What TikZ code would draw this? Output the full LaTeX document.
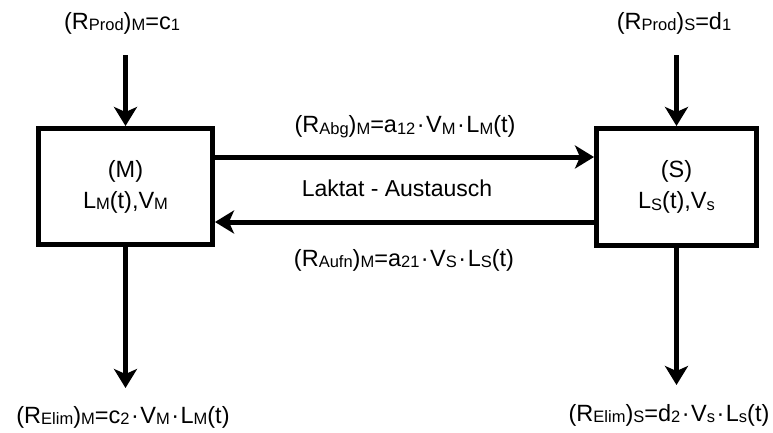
\documentclass[tikz,border=0pt]{standalone}
\usepackage{fontspec}
\setmainfont{Liberation Sans}
\usetikzlibrary{arrows.meta}
\newcommand\lsub[1]{\raisebox{-0.08em}{\fontsize{16.5}{16.5}\selectfont #1}}
\newcommand\mdot{\kern1.5pt·\kern1.5pt}
\begin{document}
\begin{tikzpicture}[x=1pt,y=-1pt,
  box/.style={draw, line width=5pt, inner sep=0pt, align=center, font=\fontsize{23.5}{31}\selectfont},
  flow/.style={line width=5pt, -{Stealth[length=19pt,width=23pt,inset=5pt]}},
  lbl/.style={inner sep=0pt, font=\fontsize{23.5}{27}\selectfont}]
\useasboundingbox (0,0) rectangle (773,432);
\node[box, minimum width=174pt, minimum height=116pt] (M) at (125.5,186.5) {(M)\\L\lsub{M}(t),V\lsub{M}};
\node[box, minimum width=160pt, minimum height=117pt] (S) at (676.5,187) {(S)\\L\lsub{S}(t),V\lsub{s}};
\node[lbl] (pm) at (122,23) {(R\lsub{Prod})\lsub{M}=c\lsub{1}};
\node[lbl] (ps) at (674,23) {(R\lsub{Prod})\lsub{S}=d\lsub{1}};
\node[lbl] (abg) at (405,127) {(R\lsub{Abg})\lsub{M}=a\lsub{12}\mdot V\lsub{M}\mdot L\lsub{M}(t)};
\node[lbl, font=\fontsize{23}{27}\selectfont] (lak) at (397,188) {Laktat - Austausch};
\node[lbl] (aufn) at (404,260) {(R\lsub{Aufn})\lsub{M}=a\lsub{21}\mdot V\lsub{S}\mdot L\lsub{S}(t)};
\node[lbl] (em) at (123,417) {(R\lsub{Elim})\lsub{M}=c\lsub{2}\mdot V\lsub{M}\mdot L\lsub{M}(t)};
\node[lbl] (es) at (669,415) {(R\lsub{Elim})\lsub{S}=d\lsub{2}\mdot V\lsub{s}\mdot L\lsub{s}(t)};
\coordinate (inM) at (125.5,55);
\coordinate (inS) at (676.5,55);
\coordinate (outM) at (125.5,388);
\coordinate (outS) at (676.5,385);
\draw[flow] (inM) -- (M.north);
\draw[flow] (inS) -- (S.north);
\draw[flow] (M.south) -- (outM);
\draw[flow] (S.south) -- (outS);
\draw[flow] ([yshift=29.5pt]M.east) -- ([yshift=30pt]S.west);
\draw[flow] ([yshift=-35pt]S.west) -- ([yshift=-35.5pt]M.east);
\end{tikzpicture}
\end{document}
